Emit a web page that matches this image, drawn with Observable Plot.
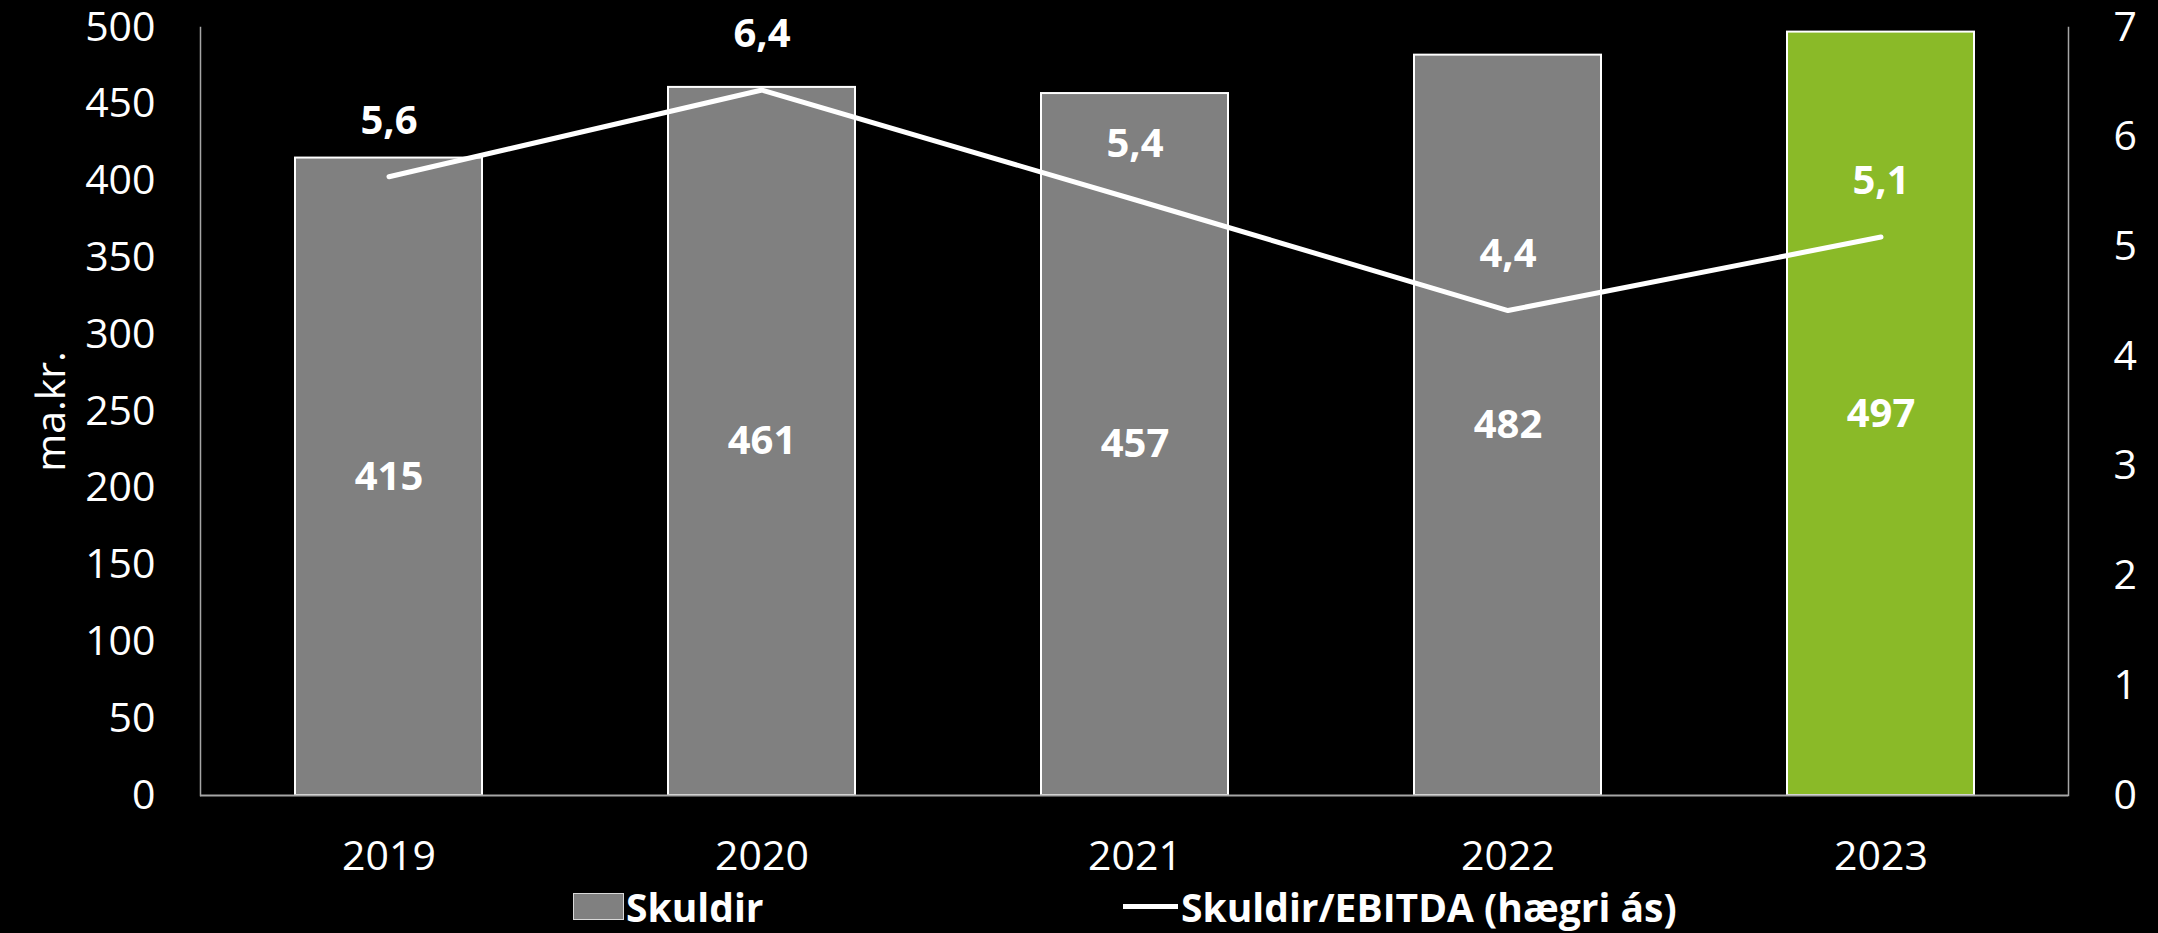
<!DOCTYPE html>
<html>
<head>
<meta charset="utf-8">
<script src="https://cdn.jsdelivr.net/npm/d3@7"></script>
<script src="https://cdn.jsdelivr.net/npm/@observablehq/plot@0.6"></script>
<style>
  html, body { margin: 0; padding: 0; background: #000; }
  #chart { width: 2158px; height: 933px; background: #000; position: relative; overflow: hidden; }
  #legend { position: relative; height: 53px; font-family: "Open Sans", sans-serif; font-weight: 700; font-size: 39px; color: #fff; }
  .lg { position: absolute; top: 0; height: 53px; display: flex; align-items: center; }
  .sw-bar { width: 51px; height: 27px; background: #808080; border: 1.5px solid #d9d9d9; margin-right: 2px; box-sizing: border-box; }
  .sw-line { width: 55px; height: 5px; background: #fff; margin-right: 3px; }
</style>
</head>
<body>
<div id="chart"></div>
<script>
const years = ["2019", "2020", "2021", "2022", "2023"];
const skuldir = [415, 461, 457, 482, 497];
const skuldirEbitda = [5.64, 6.43, 5.43, 4.42, 5.09];
const leftTicks = [0, 50, 100, 150, 200, 250, 300, 350, 400, 450, 500];
const rightTicks = [0, 1, 2, 3, 4, 5, 6, 7];
const barColors = ["#808080", "#808080", "#808080", "#808080", "#8aba28"];
const leftMax = 500, rightMax = 7;

const rows = years.map((y, i) => ({year: y, debt: skuldir[i], ratio: skuldirEbitda[i], color: barColors[i]}));
const toLeft = v => v * leftMax / rightMax;
const fmt = v => d3.format(".1f")(v).replace(".", ",");

const plot = Plot.plot({
  width: 2158,
  height: 880,
  marginLeft: 200,
  marginRight: 90,
  marginTop: 27,
  marginBottom: 85,
  style: {background: "#000", color: "#fff", fontFamily: "Open Sans, sans-serif", fontSize: "41px", overflow: "visible"},
  x: {type: "band", domain: years, paddingInner: 0.5, paddingOuter: 0.25},
  y: {domain: [0, leftMax]},
  marks: [
    Plot.frame({anchor: "left", stroke: "#a6a6a6", strokeWidth: 1.5}),
    Plot.frame({anchor: "right", stroke: "#a6a6a6", strokeWidth: 1.5}),
    Plot.barY(rows, {x: "year", y: "debt", fill: "color", stroke: "#ffffff", strokeWidth: 2}),
    Plot.ruleY([0], {stroke: "#a6a6a6", strokeWidth: 2}),
    Plot.axisY(leftTicks, {anchor: "left", tickSize: 0, tickPadding: 45, label: "ma.kr.", labelArrow: "none", labelAnchor: "center", labelOffset: 165, fill: "#fff"}),
    Plot.axisY(rightTicks, {anchor: "right", y: d => toLeft(d), text: d => String(d), tickSize: 0, tickPadding: 45, label: null, fill: "#fff"}),
    Plot.axisX({anchor: "bottom", tickSize: 0, tickPadding: 45, label: null, fill: "#fff"}),
    Plot.text(rows, {x: "year", y: d => d.debt / 2, text: d => String(d.debt), fill: "#fff", fontWeight: 700, fontSize: 40}),
    Plot.line(rows, {x: "year", y: d => toLeft(d.ratio), stroke: "#fff", strokeWidth: 5, strokeLinecap: "round", strokeLinejoin: "round"}),
    Plot.text(rows, {x: "year", y: d => toLeft(d.ratio), text: d => fmt(d.ratio), dy: -56, fill: "#fff", fontWeight: 700, fontSize: 40})
  ]
});
document.getElementById("chart").appendChild(plot);

const legend = document.createElement("div");
legend.id = "legend";
legend.innerHTML =
  '<div class="lg" style="left:573px"><span class="sw-bar"></span><span>Skuldir</span></div>' +
  '<div class="lg" style="left:1123px"><span class="sw-line"></span><span>Skuldir/EBITDA (hægri ás)</span></div>';
document.getElementById("chart").appendChild(legend);
</script>
</body>
</html>
